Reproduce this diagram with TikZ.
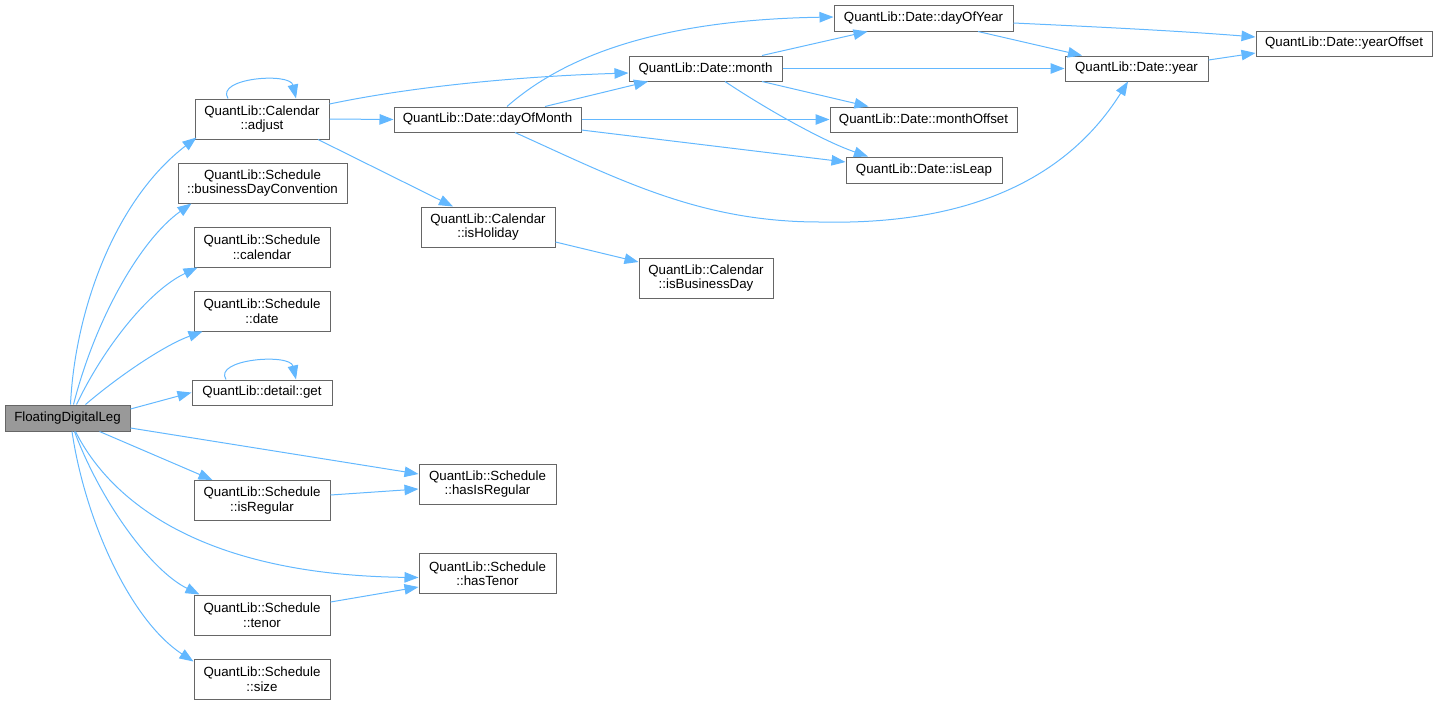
\documentclass[tikz,border=0pt]{standalone}
\usepackage{fontspec}
\setmainfont{Liberation Sans}
\usetikzlibrary{arrows.meta}
\definecolor{edgecol}{HTML}{63B8FF}
\definecolor{boxborder}{HTML}{666666}
\definecolor{rootfill}{HTML}{999999}
\begin{document}
\begin{tikzpicture}[x=1pt,y=-1pt,
 box/.style={draw=boxborder, line width=1pt, fill=white, inner sep=0pt, align=center, font=\fontsize{13.3pt}{14.5pt}\selectfont},
 edge/.style={draw=edgecol, line width=1pt, -{Triangle[length=14pt,width=10.5pt]}}]
\useasboundingbox (0,0) rectangle (1437,705);
% nodes
\node[box, fill=rootfill, minimum width=125pt, minimum height=26pt] (fdl) at (67.5,418) {FloatingDigitalLeg};
\node[box, minimum width=134pt, minimum height=40pt] (adjust) at (262,119) {QuantLib::Calendar\\::adjust};
\node[box, minimum width=169pt, minimum height=40pt] (bdc) at (262.5,183) {QuantLib::Schedule\\::businessDayConvention};
\node[box, minimum width=136pt, minimum height=40pt] (cal) at (262,247) {QuantLib::Schedule\\::calendar};
\node[box, minimum width=136pt, minimum height=40pt] (date) at (262,311) {QuantLib::Schedule\\::date};
\node[box, minimum width=140pt, minimum height=25pt] (get) at (262,392.5) {QuantLib::detail::get};
\node[box, minimum width=136pt, minimum height=40pt] (isreg) at (262,500.5) {QuantLib::Schedule\\::isRegular};
\node[box, minimum width=136pt, minimum height=40pt] (tenor) at (262,615) {QuantLib::Schedule\\::tenor};
\node[box, minimum width=136pt, minimum height=40pt] (size) at (262,679) {QuantLib::Schedule\\::size};
\node[box, minimum width=187pt, minimum height=25pt] (dom) at (487.5,119.5) {QuantLib::Date::dayOfMonth};
\node[box, minimum width=134pt, minimum height=40pt] (ishol) at (488,227) {QuantLib::Calendar\\::isHoliday};
\node[box, minimum width=137pt, minimum height=40pt] (hasisreg) at (487.5,484) {QuantLib::Schedule\\::hasIsRegular};
\node[box, minimum width=137pt, minimum height=40pt] (hastenor) at (487.5,573.5) {QuantLib::Schedule\\::hasTenor};
\node[box, minimum width=153pt, minimum height=25pt] (month) at (705.5,68.5) {QuantLib::Date::month};
\node[box, minimum width=134pt, minimum height=40pt] (isbd) at (706,278) {QuantLib::Calendar\\::isBusinessDay};
\node[box, minimum width=179pt, minimum height=26pt] (doy) at (923.5,18) {QuantLib::Date::dayOfYear};
\node[box, minimum width=187pt, minimum height=25pt] (moff) at (923.5,119.5) {QuantLib::Date::monthOffset};
\node[box, minimum width=156pt, minimum height=26pt] (isleap) at (924,170) {QuantLib::Date::isLeap};
\node[box, minimum width=143pt, minimum height=25pt] (year) at (1136.5,68.5) {QuantLib::Date::year};
\node[box, minimum width=176pt, minimum height=25pt] (yoff) at (1344,43.5) {QuantLib::Date::yearOffset};
% edges from root
\draw[edge] ([xshift=3pt]fdl.north) .. controls (75,310) and (115,200) .. ([shift={(2pt,2pt)}]adjust.south west);
\draw[edge] ([xshift=6pt]fdl.north) .. controls (95,320) and (140,240) .. ([xshift=14pt]bdc.south west);
\draw[edge] ([xshift=9pt]fdl.north) .. controls (105,345) and (150,290) .. ([xshift=4pt]cal.south west);
\draw[edge] ([xshift=18pt]fdl.north) .. controls (120,375) and (165,345) .. ([xshift=9pt]date.south west);
\draw[edge] ([yshift=9pt]fdl.east) -- (get.west);
\draw[edge] ([yshift=-10pt]fdl.east) -- ([yshift=10pt]hasisreg.west);
\draw[edge] ([xshift=32pt]fdl.south) -- ([xshift=19pt]isreg.north west);
\draw[edge] ([xshift=8pt]fdl.south) .. controls (110,500) and (200,575) .. ([yshift=-4pt]hastenor.west);
\draw[edge] ([xshift=7pt]fdl.south) .. controls (100,500) and (150,570) .. ([xshift=6pt]tenor.north west);
\draw[edge] ([xshift=4.5pt]fdl.south) .. controls (85,520) and (130,620) .. ([yshift=-3pt]size.north west);
% self loops
\draw[edge] ([xshift=-34pt]adjust.north) .. controls (215,78) and (290,72) .. ([xshift=34pt]adjust.north);
\draw[edge] ([xshift=-36pt]get.north) .. controls (213,359) and (290,353) .. ([xshift=34pt]get.north);
% from adjust
\draw[edge] ([yshift=15pt]adjust.east) .. controls (420,85) and (530,76) .. ([yshift=-4.5pt]month.west);
\draw[edge] (adjust.east) -- (dom.west);
\draw[edge] ([xshift=56pt]adjust.south) -- ([xshift=-35pt]ishol.north);
% from dayOfMonth
\draw[edge] ([xshift=19.5pt]dom.north) .. controls (560,60) and (650,20) .. ([yshift=1pt]doy.west);
\draw[edge] ([xshift=57.5pt]dom.north) -- ([xshift=-57.5pt]month.south);
\draw[edge] (dom.east) -- (moff.west);
\draw[edge] ([yshift=-10.5pt]dom.east) -- ([yshift=8pt]isleap.west);
\draw[edge] ([xshift=27.5pt]dom.south) .. controls (620,180) and (700,222) .. (820,222) .. controls (950,225) and (1060,190) .. ([xshift=-8.5pt]year.south);
% from month
\draw[edge] ([xshift=56.5pt]month.north) -- ([xshift=-56pt]doy.south);
\draw[edge] (month.east) -- (year.west);
\draw[edge] ([xshift=56.5pt]month.south) -- ([xshift=-55pt]moff.north);
\draw[edge] ([xshift=19.5pt]month.south) .. controls (760,105) and (820,140) .. ([xshift=-56pt]isleap.north);
% from dayOfYear and year
\draw[edge] ([xshift=54.5pt]doy.south) -- ([xshift=-54.5pt]year.north);
\draw[edge] ([yshift=-5pt]doy.east) .. controls (1100,27) and (1180,31) .. ([yshift=6.5pt]yoff.west);
\draw[edge] ([yshift=8.5pt]year.east) -- ([yshift=-9.5pt]yoff.west);
% others
\draw[edge] ([yshift=-15pt]ishol.east) -- ([yshift=16pt]isbd.west);
\draw[edge] ([yshift=5.5pt]isreg.east) -- ([yshift=-5pt]hasisreg.west);
\draw[edge] ([yshift=13pt]tenor.east) -- ([yshift=-13.5pt]hastenor.west);
\end{tikzpicture}
\end{document}
